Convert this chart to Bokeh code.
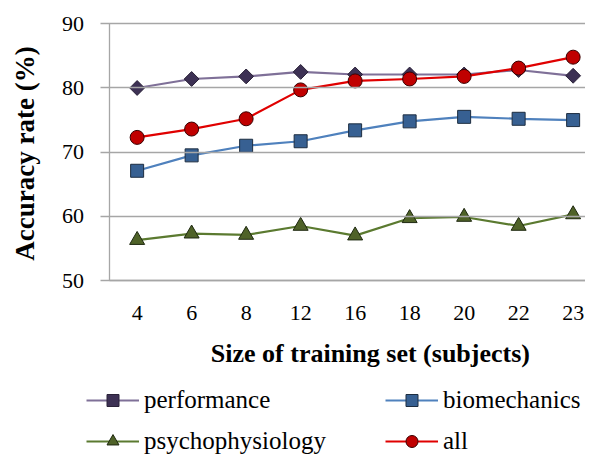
from bokeh.plotting import figure
from bokeh.models import Range1d, FixedTicker, Legend, LegendItem, Label
from bokeh.embed import file_html
from bokeh.resources import INLINE
import math

sizes = ["4", "6", "8", "12", "16", "18", "20", "22", "23"]
performance = [80.0, 81.4, 81.8, 82.5, 82.1, 82.1, 82.1, 82.8, 81.9]
biomechanics = [67.1, 69.5, 71.0, 71.7, 73.4, 74.8, 75.5, 75.2, 75.0]
psychophysiology = [56.3, 57.3, 57.1, 58.5, 57.0, 59.7, 59.9, 58.5, 60.3]
all_features = [72.3, 73.6, 75.2, 79.7, 81.1, 81.4, 81.8, 83.1, 84.8]
y_ticks = [50, 60, 70, 80, 90]
x_title = "Size of training set (subjects)"
y_title = "Accuracy rate (%)"

xs = list(range(len(sizes)))
FONT = "Liberation Serif"
GRID = "#a6a6a6"

# The frame covers the whole figure; both axes are pinned inside it
# (y axis at the left edge of the first category, x axis at 50 %).
p = figure(width=585, height=456, output_backend="svg", toolbar_location=None,
           x_range=Range1d(-2.507, 8.227), y_range=Range1d(22.58, 93.63),
           min_border_left=0, min_border_right=0, min_border_top=0, min_border_bottom=0)
p.outline_line_color = None
p.background_fill_color = "white"
p.xgrid.visible = False
p.ygrid.visible = False

# y axis (its inward ticks act as the horizontal grid lines)
p.yaxis.fixed_location = -0.5
p.yaxis.ticker = FixedTicker(ticks=y_ticks)
p.yaxis.bounds = (50, 90)
p.yaxis.minor_tick_line_color = None
p.yaxis.major_tick_in = 476
p.yaxis.major_tick_out = 9
p.yaxis.major_tick_line_color = GRID
p.yaxis.major_tick_line_width = 1.3
p.yaxis.axis_line_color = GRID
p.yaxis.axis_line_width = 1.3
p.yaxis.major_label_text_font = FONT
p.yaxis.major_label_text_font_size = "22px"
p.yaxis.major_label_text_color = "black"
p.yaxis.major_label_standoff = 17

# x axis
p.xaxis.fixed_location = 50
p.xaxis.ticker = FixedTicker(ticks=xs)
p.xaxis.major_label_overrides = {i: s for i, s in zip(xs, sizes)}
p.xaxis.bounds = (-0.5, 8.227)
p.xaxis.minor_tick_line_color = None
p.xaxis.major_tick_line_color = None
p.xaxis.major_tick_in = 0
p.xaxis.major_tick_out = 0
p.xaxis.axis_line_color = GRID
p.xaxis.axis_line_width = 1.3
p.xaxis.major_label_text_font = FONT
p.xaxis.major_label_text_font_size = "22px"
p.xaxis.major_label_text_color = "black"
p.xaxis.major_label_standoff = 25

# axis titles
p.add_layout(Label(x=4.28, y=38.6, text=x_title, text_align="center", text_baseline="middle",
                   text_font=FONT, text_font_style="bold", text_font_size="26px",
                   text_color="black"))
p.add_layout(Label(x=-2.065, y=69.8, text=y_title, angle=math.pi / 2,
                   text_align="center", text_baseline="middle",
                   text_font=FONT, text_font_style="bold", text_font_size="27px",
                   text_color="black"))

# series
l1 = p.line(xs, performance, line_color="#7f7098", line_width=2.2)
m1 = p.scatter(xs, performance, marker="square", angle=math.pi / 4, size=10.5,
               fill_color="#3d3154", line_color="#2a2238", line_width=1)

l2 = p.line(xs, biomechanics, line_color="#4f81bd", line_width=2.2)
m2 = p.scatter(xs, biomechanics, marker="square", size=13,
               fill_color="#376092", line_color="#1d2d40", line_width=1)

l3 = p.line(xs, psychophysiology, line_color="#5b7a30", line_width=2.2)
m3 = p.scatter(xs, psychophysiology, marker="triangle", size=15,
               fill_color="#4f6228", line_color="#1e2810", line_width=1)

l4 = p.line(xs, all_features, line_color="#e00000", line_width=2.2)
m4 = p.scatter(xs, all_features, marker="circle", size=14,
               fill_color="#c00000", line_color="#3a0000", line_width=1)


def make_legend(items, loc):
    return Legend(items=items, location=loc, orientation="vertical",
                  glyph_width=53, glyph_height=30, label_standoff=5, spacing=11,
                  padding=0, margin=0, border_line_color=None, background_fill_alpha=0,
                  label_text_font=FONT, label_text_font_size="25px",
                  label_text_color="black")


leg_a = make_legend([LegendItem(label="performance", renderers=[l1, m1]),
                     LegendItem(label="psychophysiology", renderers=[l3, m3])], (86, 0))
leg_b = make_legend([LegendItem(label="biomechanics", renderers=[l2, m2]),
                     LegendItem(label="all", renderers=[l4, m4])], (385, 0))
p.add_layout(leg_a, "center")
p.add_layout(leg_b, "center")

open("out.html", "w").write(file_html(p, INLINE))
